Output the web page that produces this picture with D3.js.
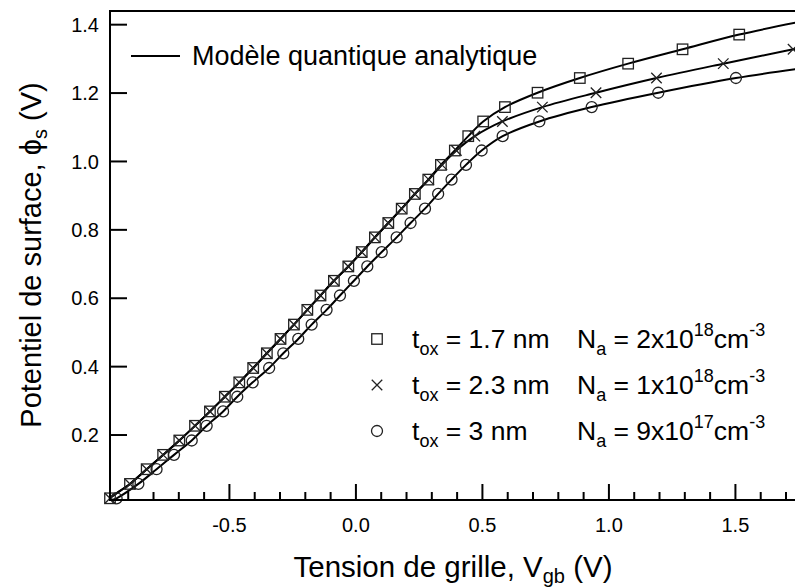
<!DOCTYPE html>
<html><head><meta charset="utf-8">
<script src="https://cdn.jsdelivr.net/npm/d3@7"></script>
<style>
html,body{margin:0;padding:0;background:#fff;}
svg{display:block;font-family:"Liberation Sans",Arial,Helvetica,sans-serif;}
</style></head>
<body><svg id="c" width="795" height="588"></svg>
<script>
// Surface potential levels (shared by all series)
const phiLevels = [0.015,0.057,0.100,0.142,0.184,0.227,0.269,0.312,0.354,0.396,0.439,0.481,0.523,0.566,0.608,0.651,0.693,0.735,0.778,0.820,0.862,0.905,0.947,0.990,1.032,1.074,1.117,1.159,1.201,1.244,1.286,1.328,1.371];
// tox = 1.7 nm, Na = 2e18 (squares)
const vSquare = [-0.972,-0.893,-0.827,-0.762,-0.698,-0.636,-0.577,-0.518,-0.461,-0.406,-0.352,-0.298,-0.245,-0.192,-0.140,-0.087,-0.030,0.023,0.075,0.128,0.181,0.233,0.286,0.336,0.391,0.444,0.503,0.589,0.718,0.885,1.076,1.291,1.515];
// tox = 2.3 nm, Na = 1e18 (crosses)
const vCross = [-0.972,-0.893,-0.827,-0.762,-0.698,-0.636,-0.577,-0.518,-0.461,-0.406,-0.352,-0.298,-0.245,-0.192,-0.140,-0.087,-0.030,0.023,0.075,0.128,0.181,0.233,0.288,0.340,0.397,0.470,0.579,0.737,0.949,1.188,1.452,1.728];
// tox = 3 nm, Na = 9e17 (circles)
const vCircle = [-0.946,-0.860,-0.788,-0.719,-0.649,-0.590,-0.525,-0.469,-0.408,-0.343,-0.287,-0.228,-0.175,-0.116,-0.063,-0.008,0.045,0.102,0.161,0.216,0.273,0.325,0.378,0.435,0.497,0.580,0.725,0.932,1.195,1.502];
// analytic model curve ends (square, cross, circle)
const modelStartV = [-0.972,-0.972,-0.970];
const modelStartPhi = [0.012,0.012,0.010];
const modelEndV = [1.76,1.76,1.76];
const modelEndPhi = [1.409,1.333,1.272];
const xTicks = [-0.5,0.0,0.5,1.0,1.5];
const yTicks = [0.2,0.4,0.6,0.8,1.0,1.2,1.4];

const svg = d3.select("#c");
const x = d3.scaleLinear().domain([-0.972,1.76]).range([110,801.2]);
const y = d3.scaleLinear().domain([0.01,1.44]).range([500,11]);
const fmt = v => d3.format(".1f")(v).replace("\u2212","-");

const series = [
  {v:vSquare, type:"square"},
  {v:vCross, type:"cross"},
  {v:vCircle, type:"circle"}
];

// model lines
const line = d3.line().x(d=>x(d[0])).y(d=>y(d[1])).curve(d3.curveCatmullRom.alpha(0.5));
series.forEach((s,i)=>{
  const pts = [[modelStartV[i],modelStartPhi[i]]].concat(s.v.map((v,k)=>[v,phiLevels[k]])).concat([[modelEndV[i],modelEndPhi[i]]]);
  svg.append("path").attr("d",line(pts)).attr("fill","none").attr("stroke","#000").attr("stroke-width",2);
});

function drawMarker(g,type,cx,cy,sz){
  if(type==="square"){
    g.append("rect").attr("x",cx-sz/2).attr("y",cy-sz/2).attr("width",sz).attr("height",sz)
      .attr("fill","none").attr("stroke","#222").attr("stroke-width",1.3);
  } else if(type==="cross"){
    const h=sz/2;
    g.append("path").attr("d",`M${cx-h},${cy-h}L${cx+h},${cy+h}M${cx-h},${cy+h}L${cx+h},${cy-h}`)
      .attr("stroke","#222").attr("stroke-width",1.3).attr("fill","none");
  } else {
    g.append("circle").attr("cx",cx).attr("cy",cy).attr("r",sz/2)
      .attr("fill","none").attr("stroke","#222").attr("stroke-width",1.3);
  }
}
const mg = svg.append("g");
series.forEach(s=>{
  s.v.forEach((v,k)=>drawMarker(mg,s.type,x(v),y(phiLevels[k]),s.type==="circle"?11:10.5));
});

// axes frame
svg.append("line").attr("x1",110).attr("x2",110).attr("y1",10).attr("y2",501).attr("stroke","#000").attr("stroke-width",2);
svg.append("line").attr("x1",109).attr("x2",801).attr("y1",500).attr("y2",500).attr("stroke","#000").attr("stroke-width",2);
svg.append("line").attr("x1",109).attr("x2",801).attr("y1",11).attr("y2",11).attr("stroke","#000").attr("stroke-width",2);

// y ticks
yTicks.forEach(t=>{
  svg.append("line").attr("x1",110).attr("x2",127).attr("y1",y(t)).attr("y2",y(t)).attr("stroke","#000").attr("stroke-width",2);
  svg.append("text").attr("x",99).attr("y",y(t)).attr("dy","0.36em").attr("text-anchor","end")
    .attr("font-size",20).text(fmt(t));
});
// x ticks (major + minor)
d3.range(-9,18).map(i=>i/10).forEach(t=>{
  const major = Math.abs(t*2-Math.round(t*2))<1e-6;
  svg.append("line").attr("x1",x(t)).attr("x2",x(t)).attr("y1",500).attr("y2",major?484:492).attr("stroke","#000").attr("stroke-width",2);
});
xTicks.forEach(t=>{
  svg.append("text").attr("x",x(t)).attr("y",532).attr("text-anchor","middle").attr("font-size",20).text(fmt(t));
});

// axis titles
const xt = svg.append("text").attr("x",453).attr("y",577).attr("text-anchor","middle").attr("font-size",29.5);
xt.append("tspan").text("Tension de grille, V");
xt.append("tspan").attr("font-size",20).attr("dy",6).text("gb");
xt.append("tspan").attr("dy",-6).text(" (V)");

const yt = svg.append("text").attr("transform","translate(41,255) rotate(-90)").attr("text-anchor","middle").attr("font-size",29);
yt.append("tspan").text("Potentiel de surface, \u03d5");
yt.append("tspan").attr("font-size",20).attr("dy",6).text("s");
yt.append("tspan").attr("dy",-6).text(" (V)");

// legend: model
svg.append("line").attr("x1",131).attr("x2",180).attr("y1",56).attr("y2",56).attr("stroke","#000").attr("stroke-width",2);
svg.append("text").attr("x",192).attr("y",65).attr("font-size",27).text("Modèle quantique analytique");

// legend: data
const legTox = ["1.7","2.3","3"];
const legNa = ["2","1","9"];
const legExp = ["18","18","17"];
const rowY = [348,394,440];
series.forEach((s,i)=>{
  drawMarker(svg,s.type,377,rowY[i]-9,s.type==="circle"?11:10.5);
  const t1 = svg.append("text").attr("x",412).attr("y",rowY[i]).attr("font-size",26.5);
  t1.append("tspan").text("t");
  t1.append("tspan").attr("font-size",18).attr("dy",7).text("ox");
  t1.append("tspan").attr("dy",-7).text(" = "+legTox[i]+" nm");
  const t2 = svg.append("text").attr("x",577).attr("y",rowY[i]).attr("font-size",26.5);
  t2.append("tspan").text("N");
  t2.append("tspan").attr("font-size",18).attr("dy",7).text("a");
  t2.append("tspan").attr("dy",-7).text(" = "+legNa[i]+"x10");
  t2.append("tspan").attr("font-size",18).attr("dy",-12).text(legExp[i]);
  t2.append("tspan").attr("dy",12).text("cm");
  t2.append("tspan").attr("font-size",18).attr("dy",-12).text("-3");
});
</script></body></html>
